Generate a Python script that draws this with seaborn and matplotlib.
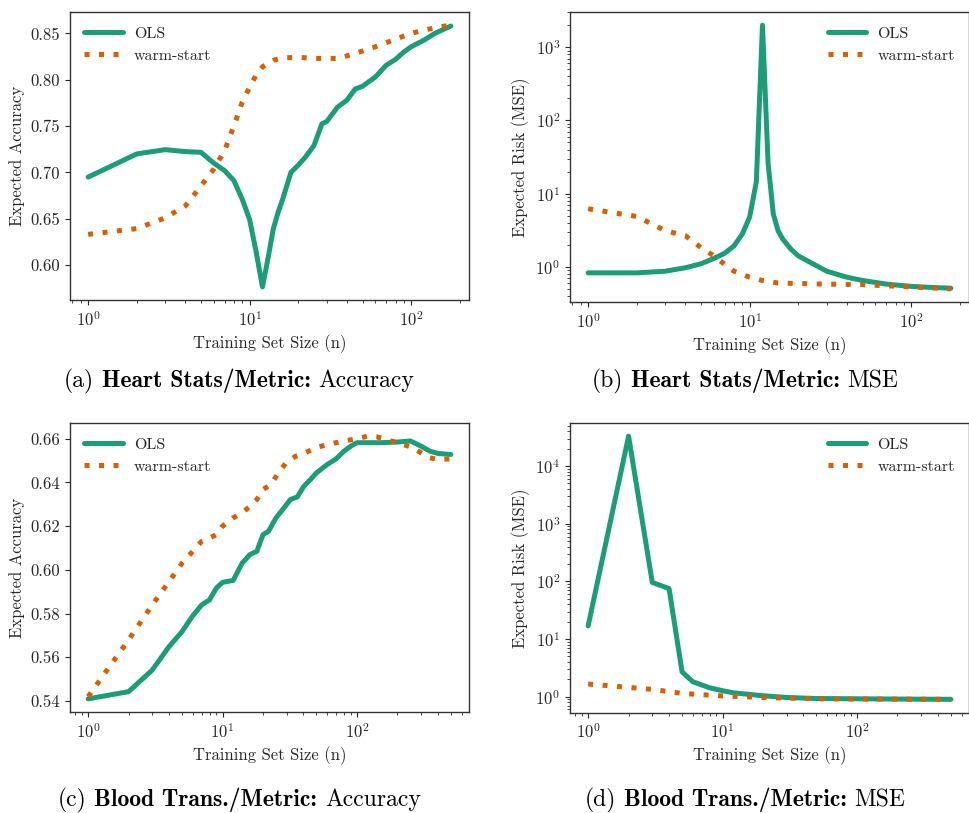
import numpy as np
import pandas as pd
import matplotlib
matplotlib.use("Agg")
import matplotlib.pyplot as plt
import seaborn as sns

# ---- Heart Stats: accuracy ----
heart_acc_ols_n = [1, 2, 3, 4, 5, 6, 7, 8, 9, 10, 11, 12, 13, 14, 15, 16, 18, 20, 22, 25,
                   28, 30, 35, 40, 45, 50, 60, 70, 80, 90, 100, 120, 140, 160, 176]
heart_acc_ols = [0.695, 0.720, 0.7246, 0.7225, 0.7217, 0.710, 0.702, 0.691, 0.671, 0.649,
                 0.613, 0.5765, 0.6076, 0.639, 0.657, 0.671, 0.700, 0.708, 0.716, 0.729,
                 0.7525, 0.755, 0.7705, 0.778, 0.790, 0.793, 0.803, 0.8157, 0.822, 0.830,
                 0.8356, 0.8428, 0.850, 0.8547, 0.858]
heart_acc_ws_n = [1, 2, 3, 4, 5, 6, 7, 8, 9, 10, 11, 12, 14, 16, 20, 25, 30, 35, 40, 50,
                  60, 70, 80, 100, 120, 150, 176]
heart_acc_ws = [0.6332, 0.6394, 0.651, 0.664, 0.6856, 0.7037, 0.7236, 0.7507, 0.776, 0.792,
                0.8056, 0.814, 0.821, 0.8236, 0.8243, 0.823, 0.823, 0.823, 0.8258, 0.831,
                0.8356, 0.840, 0.8439, 0.850, 0.8536, 0.857, 0.859]

# ---- Heart Stats: MSE ----
heart_mse_ols_n = [1, 2, 3, 4, 5, 6, 7, 8, 9, 10, 11, 12, 13, 14, 15, 16, 18, 20, 25, 30,
                   40, 50, 70, 100, 140, 176]
heart_mse_ols = [0.826, 0.826, 0.87, 0.97, 1.10, 1.30, 1.53, 1.93, 2.8, 4.8, 14.6, 2000.0,
                 26.0, 5.3, 3.1, 2.4, 1.74, 1.41, 1.08, 0.87, 0.72, 0.65, 0.58, 0.54, 0.52,
                 0.51]
heart_mse_ws_n = [1, 2, 3, 4, 5, 6, 7, 8, 10, 12, 15, 20, 30, 50, 100, 176]
heart_mse_ws = [6.2, 4.87, 3.12, 2.66, 1.83, 1.41, 1.08, 0.87, 0.72, 0.65, 0.60, 0.59, 0.58,
                0.57, 0.53, 0.50]

# ---- Blood Transfusion: accuracy ----
blood_acc_ols_n = [1, 2, 3, 4, 5, 6, 7, 8, 9, 10, 12, 14, 16, 18, 20, 22, 25, 28, 32, 36,
                   40, 45, 50, 60, 70, 80, 90, 100, 120, 150, 200, 250, 300, 350, 400, 500]
blood_acc_ols = [0.541, 0.5443, 0.5542, 0.5649, 0.5718, 0.579, 0.584, 0.5863, 0.5917, 0.5943,
                 0.5952, 0.6031, 0.607, 0.6085, 0.6161, 0.6177, 0.6238, 0.6276, 0.6322, 0.6334,
                 0.638, 0.6413, 0.6444, 0.6482, 0.6508, 0.6543, 0.6566, 0.6582, 0.6582, 0.6582,
                 0.6585, 0.659, 0.6566, 0.6543, 0.6533, 0.6528]
blood_acc_ws_n = [1, 2, 3, 4, 5, 6, 7, 8, 9, 10, 12, 14, 16, 18, 20, 23, 26, 30, 35, 40,
                  50, 60, 70, 80, 100, 120, 140, 170, 200, 250, 300, 350, 400, 500]
blood_acc_ws = [0.542, 0.568, 0.584, 0.5947, 0.6031, 0.6085, 0.6131, 0.6146, 0.6161, 0.620,
                0.6238, 0.6261, 0.6291, 0.6322, 0.6368, 0.6391, 0.6444, 0.6493, 0.652, 0.6533,
                0.6559, 0.6574, 0.6582, 0.659, 0.660, 0.6612, 0.6609, 0.6594, 0.6582, 0.6563,
                0.6536, 0.6513, 0.6505, 0.6508]

# ---- Blood Transfusion: MSE ----
blood_mse_ols_n = [1, 2, 3, 4, 5, 6, 7, 8, 10, 12, 15, 20, 30, 50, 100, 200, 500]
blood_mse_ols = [16.9, 33000.0, 96.0, 75.0, 2.7, 1.82, 1.6, 1.43, 1.27, 1.17, 1.11, 1.04,
                 0.97, 0.93, 0.92, 0.91, 0.90]
blood_mse_ws_n = [1, 2, 3, 5, 10, 20, 50, 100, 500]
blood_mse_ws = [1.66, 1.45, 1.34, 1.14, 1.03, 0.97, 0.92, 0.91, 0.90]

method_labels = ["OLS", "warm-start"]
# sub-caption pieces: (prefix, bold part, suffix)
captions = [
    ("(a)", "Heart Stats/Metric:", "Accuracy"),
    ("(b)", "Heart Stats/Metric:", "MSE"),
    ("(c)", "Blood Trans./Metric:", "Accuracy"),
    ("(d)", "Blood Trans./Metric:", "MSE"),
]

sns.set_style("ticks")
plt.rcParams.update({
    "font.family": ["cmr10"],
    "mathtext.fontset": "cm",
    "axes.formatter.use_mathtext": True,
    "axes.unicode_minus": False,
    "font.size": 12,
    "axes.labelsize": 12,
    "xtick.labelsize": 12,
    "ytick.labelsize": 12,
    "legend.fontsize": 11.5,
    "axes.edgecolor": "0.2",
    "axes.linewidth": 1.0,
    "xtick.major.size": 3.5,
    "xtick.minor.size": 2.0,
    "ytick.major.size": 3.5,
    "ytick.minor.size": 2.0,
    "xtick.major.width": 0.8,
    "ytick.major.width": 0.8,
    "xtick.minor.width": 0.6,
    "ytick.minor.width": 0.6,
    "text.color": "0.15",
    "axes.labelcolor": "0.15",
    "xtick.color": "0.15",
    "ytick.color": "0.15",
})

colors = sns.color_palette("Dark2", 2)

fig = plt.figure(figsize=(9.70, 8.13), dpi=100)
W, H = 970.0, 813.0


def axes_px(left, top, right, bottom):
    return fig.add_axes([left / W, 1 - bottom / H, (right - left) / W, (bottom - top) / H])


ax_a = axes_px(70, 12, 469, 300)
ax_b = axes_px(570, 12, 969, 302)
ax_c = axes_px(70, 423, 469, 712)
ax_d = axes_px(570, 423, 969, 712.5)

panels = [
    (ax_a, heart_acc_ols_n, heart_acc_ols, heart_acc_ws_n, heart_acc_ws, "Expected Accuracy", False, "upper left"),
    (ax_b, heart_mse_ols_n, heart_mse_ols, heart_mse_ws_n, heart_mse_ws, "Expected Risk (MSE)", True, "upper right"),
    (ax_c, blood_acc_ols_n, blood_acc_ols, blood_acc_ws_n, blood_acc_ws, "Expected Accuracy", False, "upper left"),
    (ax_d, blood_mse_ols_n, blood_mse_ols, blood_mse_ws_n, blood_mse_ws, "Expected Risk (MSE)", True, "upper right"),
]

for ax, n_ols, v_ols, n_ws, v_ws, ylabel, logy, loc in panels:
    df = pd.concat([
        pd.DataFrame({"n": n_ols, "value": v_ols, "method": method_labels[0]}),
        pd.DataFrame({"n": n_ws, "value": v_ws, "method": method_labels[1]}),
    ], ignore_index=True)
    sns.lineplot(data=df[df["method"] == "OLS"], x="n", y="value", ax=ax,
                 color=colors[0], linewidth=3.6, label="OLS", errorbar=None)
    sns.lineplot(data=df[df["method"] == "warm-start"], x="n", y="value", ax=ax,
                 color=colors[1], linewidth=3.6, label="warm-start", errorbar=None,
                 linestyle=(0, (1, 1.9)))
    ax.set_xscale("log")
    if logy:
        ax.set_yscale("log")
    ax.set_xlabel("Training Set Size (n)")
    ax.set_ylabel(ylabel)
    for s in ax.spines.values():
        s.set_visible(True)
    ax.legend(loc=loc, frameon=False, handlelength=2.4, handletextpad=0.7)

ax_a.set_yticks([0.60, 0.65, 0.70, 0.75, 0.80, 0.85])
ax_a.set_yticklabels(["0.60", "0.65", "0.70", "0.75", "0.80", "0.85"])
ax_c.set_yticks([0.54, 0.56, 0.58, 0.60, 0.62, 0.64, 0.66])
ax_c.set_yticklabels(["0.54", "0.56", "0.58", "0.60", "0.62", "0.64", "0.66"])

# Sub-captions: regular / bold / regular runs laid out side by side, centred.
cap_size = 17
caption_pos = [(239, 387), (745, 387), (239, 806), (745, 806)]
renderer = fig.canvas.get_renderer()
space_px = 0.333 * cap_size * 100 / 72
for (cx, cy), (pre, bold, post) in zip(caption_pos, captions):
    runs = [(pre, "cmr10"), (bold, "cmb10"), (post, "cmr10")]
    texts = [fig.text(0, 1 - cy / H, s, family=fam, fontsize=cap_size, color="black",
                      ha="left", va="baseline") for s, fam in runs]
    widths = [t.get_window_extent(renderer).width for t in texts]
    total = sum(widths) + 2 * space_px
    x = cx - total / 2
    for t, w in zip(texts, widths):
        t.set_x(x / W)
        x += w + space_px

fig.savefig("out.png", dpi=100)
